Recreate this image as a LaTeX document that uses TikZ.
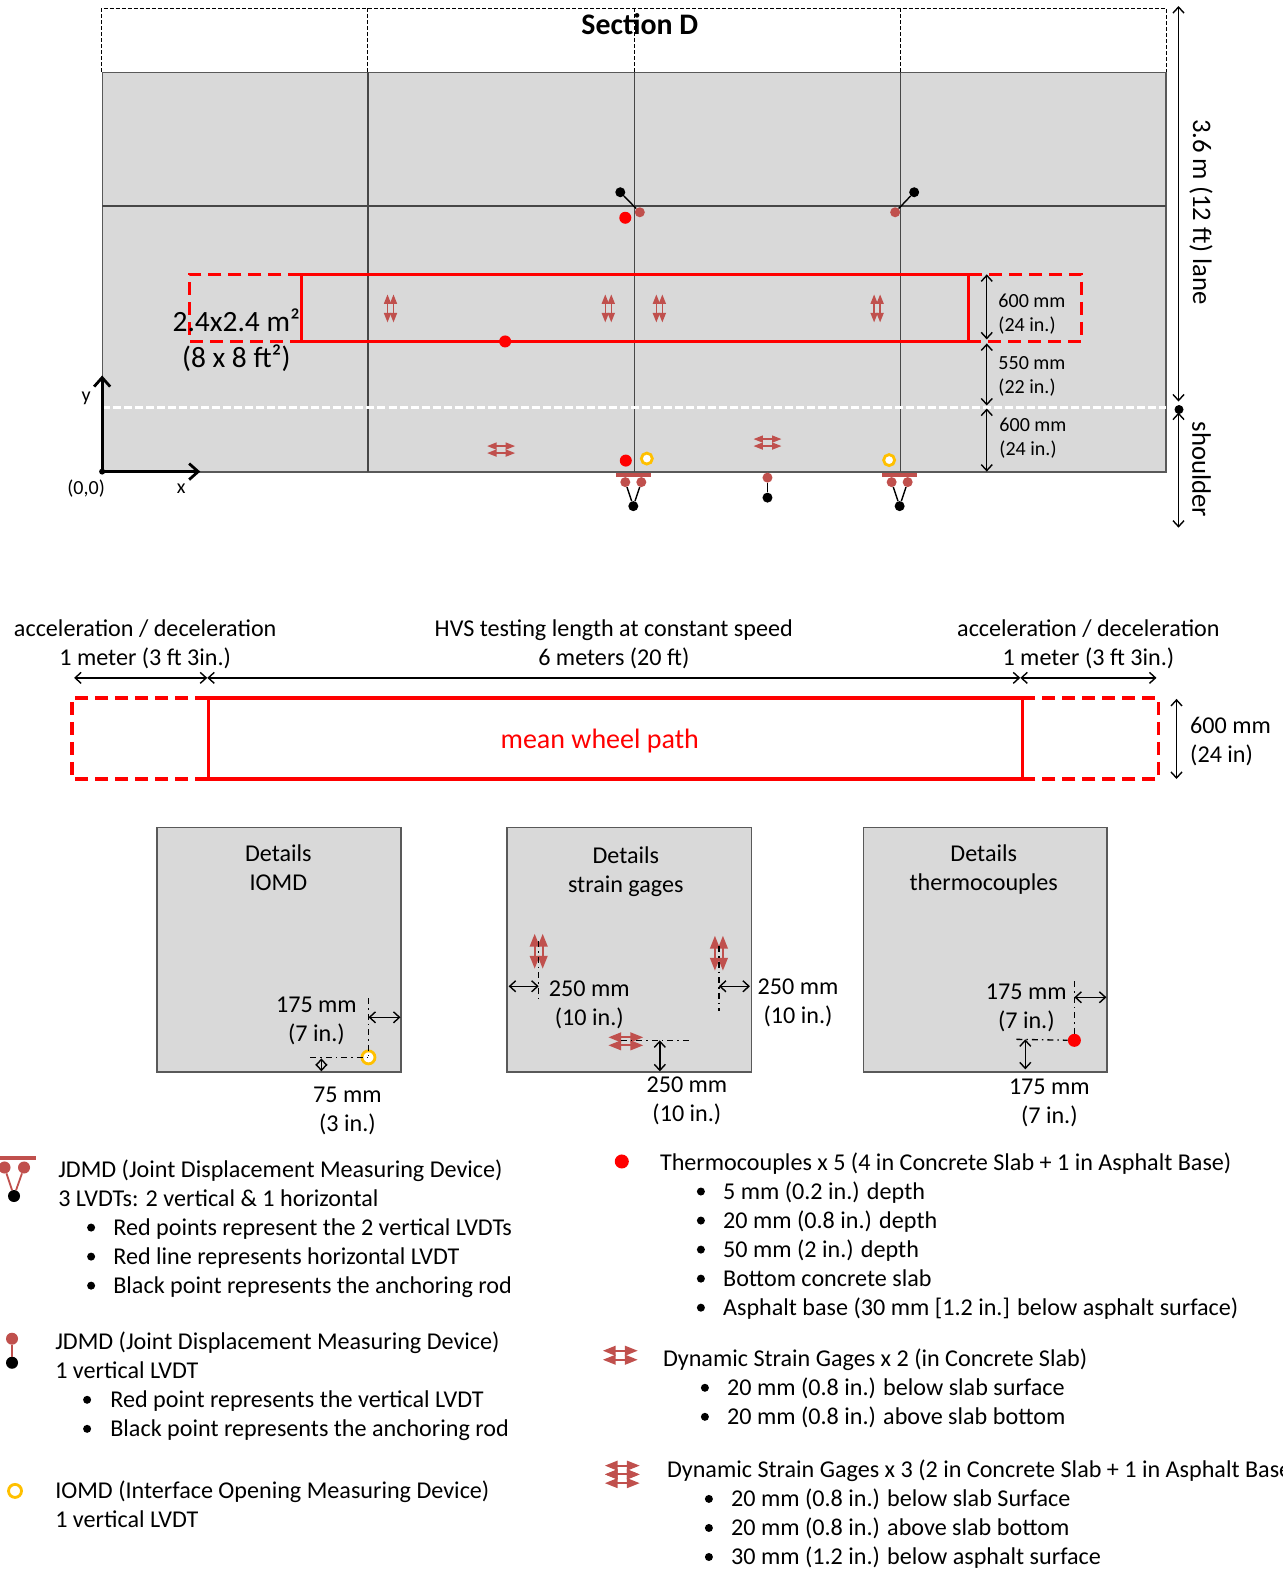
\documentclass[tikz,border=0pt]{standalone}
\usepackage{fontspec}
\setmainfont{Carlito}
\usetikzlibrary{arrows.meta}
\definecolor{slab}{HTML}{D9D9D9}
\definecolor{edgeg}{HTML}{595959}
\definecolor{brownred}{HTML}{C0504D}
\definecolor{ringy}{HTML}{FFC000}
\tikzset{
  slabbox/.style={fill=slab,draw=edgeg,line width=1.6pt},
  gridline/.style={draw=edgeg!80!black,line width=1.6pt},
  topdash/.style={draw=black,line width=1pt,dash pattern=on 4pt off 2pt},
  redsolid/.style={draw=red,line width=3.4pt},
  reddash/.style={draw=red,line width=3.4pt,dash pattern=on 13pt off 7pt},
  dimarrow/.style={draw=black,line width=1.4pt,{Straight Barb[length=6pt,width=11pt]}-{Straight Barb[length=6pt,width=11pt]}},
  dashdot/.style={draw=black,line width=1.3pt,dash pattern=on 6pt off 4pt on 1.5pt off 4pt},
  axisarrow/.style={draw=black,line width=2.8pt,-{Straight Barb[length=9pt,width=16pt]}},
  blackpt/.style={circle,fill=black,inner sep=0pt,minimum size=10pt},
  brownpt/.style={circle,fill=brownred,inner sep=0pt,minimum size=10pt},
  redpt/.style={circle,fill=red,inner sep=0pt,minimum size=12pt},
  ringpt/.style={circle,draw=ringy,fill=white,line width=2.8pt,inner sep=0pt,minimum size=11pt},
  tiebar/.style={draw=brownred,line width=4pt},
  tieline/.style={draw=black,line width=1.4pt},
  browntie/.style={draw=brownred,line width=1.8pt},
  txt/.style={inner sep=0pt,yshift=-2pt,font=\fontsize{24.1}{29}\selectfont,align=center,text=black},
  lft/.style={inner sep=0pt,yshift=-2pt,font=\fontsize{24.1}{29}\selectfont,anchor=west,text height=16pt,text depth=5pt,text=black},
  small/.style={inner sep=0pt,yshift=-2pt,font=\fontsize{20}{24}\selectfont,align=left,anchor=west,text=black},
  bul/.style={circle,fill=black,inner sep=0pt,minimum size=8pt},
  pics/gage/.style n args={4}{code={
    \draw[draw=brownred,line width=#4,{Triangle[length=#3*1.35,width=#3]}-{Triangle[length=#3*1.35,width=#3]}] (-#1/2,-#2/2) -- (#1/2,-#2/2);
    \draw[draw=brownred,line width=#4,{Triangle[length=#3*1.35,width=#3]}-{Triangle[length=#3*1.35,width=#3]}] (-#1/2,#2/2) -- (#1/2,#2/2);
  }},
}
\begin{document}
\begin{tikzpicture}[x=1pt,y=-1pt]
\useasboundingbox (0,0) rectangle (1281,1568);
% ---------- plan
\node[inner sep=0pt,outer sep=0pt,anchor=north west,minimum width=1062pt,minimum height=399pt,slabbox] (plan) at (102.5,72.5) {};
\draw[topdash] (101.5,72) -- (101.5,8) -- (1164.5,8) -- (1164.5,72);
\coordinate (t1) at (367.5,8); \coordinate (t2) at (633.5,8); \coordinate (t3) at (899.5,8);
\coordinate (m1) at (367.5,72); \coordinate (m2) at (633.5,72); \coordinate (m3) at (899.5,72);
\coordinate (b1) at (367.5,471); \coordinate (b2) at (633.5,471); \coordinate (b3) at (899.5,471);
\draw[topdash] (t1) -- (m1); \draw[topdash] (t2) -- (m2); \draw[topdash] (t3) -- (m3);
\draw[gridline] (m1) -- (b1); \draw[gridline] (m2) -- (b2); \draw[gridline] (m3) -- (b3);
\coordinate (hl) at (102,206); \coordinate (hr) at (1164,206);
\draw[gridline] (hl) -- (hr);
\coordinate (sl) at (102,407); \coordinate (sr) at (1164,407);
\draw[draw=white,line width=2.4pt,dash pattern=on 8pt off 3pt] (sl) -- (sr);
% wheel path plan
\draw[redsolid] (301,274) rectangle (967.5,341);
\draw[reddash] (301,274) -- (189,274) -- (189,341) -- (301,341);
\draw[reddash] (967.5,274) -- (1080,274) -- (1080,341) -- (967.5,341);
\node[txt,font=\fontsize{29.8}{36}\selectfont\bfseries] (sec) at (639,22) {Section D};
\node[txt,font=\fontsize{29.4}{36}\selectfont] (area) at (236,337.5) {2.4x2.4 m²\\(8 x 8 ft²)};
% axes
\coordinate (o) at (102,471); \coordinate (oy) at (102,375); \coordinate (ox) at (200,471);
\draw[axisarrow] (o) -- (oy); \draw[axisarrow] (o) -- (ox);
\node[circle,fill=black,inner sep=0pt,minimum size=6pt] (odot) at (o) {};
\node[small,anchor=center] (ylab) at (86,396) {y};
\node[small,anchor=center] (xlab) at (181,486) {x};
\node[small,anchor=center] (olab) at (86,486) {(0,0)};
% right dims
\coordinate (r0) at (1177,6); \coordinate (r1) at (1177,401); \coordinate (r1b) at (1177,412); \coordinate (r2) at (1177,527);
\draw[dimarrow] (r0) -- (r1); \draw[dimarrow] (r1b) -- (r2);
\node[circle,fill=black,inner sep=0pt,minimum size=9pt] (rdot) at (1177.5,409) {};
\node[txt,rotate=-90,font=\fontsize{26.7}{30}\selectfont] (lane) at (1199.5,209.5) {3.6 m (12 ft) lane};
\node[txt,rotate=-90,font=\fontsize{26.7}{30}\selectfont] (shld) at (1200,467) {shoulder};
\coordinate (d0) at (985.5,274); \coordinate (d1) at (985.5,339); \coordinate (d1b) at (985.5,343); \coordinate (d2) at (985.5,405); \coordinate (d2b) at (985.5,408); \coordinate (d3) at (985.5,471);
\draw[dimarrow] (d0) -- (d1); \draw[dimarrow] (d1b) -- (d2); \draw[dimarrow] (d2b) -- (d3);
\node[small] (da) at (997,311.5) {600 mm\\(24 in.)};
\node[small] (db) at (997,374) {550 mm\\(22 in.)};
\node[small] (dc) at (998,436) {600 mm\\(24 in.)};
% sensors
\node[blackpt] (k1) at (619.5,192) {}; \node[brownpt] (g1) at (639,212) {};
\draw[tieline] (k1) -- (g1);
\node[blackpt] (k2) at (913,192) {}; \node[brownpt] (g2) at (894,212) {};
\draw[tieline] (k2) -- (g2);
\node[redpt] (th1) at (624.5,217.5) {};
\node[redpt] (th2) at (504.5,341) {};
\pic[rotate=90] at (390,308) {gage={28}{6}{7}{1.5pt}};
\pic[rotate=90] at (607.5,308) {gage={28}{6}{7}{1.5pt}};
\pic[rotate=90] at (658.5,308) {gage={28}{6}{7}{1.5pt}};
\pic[rotate=90] at (876,308) {gage={28}{6}{7}{1.5pt}};
\pic at (500.5,449) {gage={28}{7}{7}{1.5pt}};
\pic at (766.5,442) {gage={28}{7}{7}{1.5pt}};
\node[redpt] (th3) at (625,460) {};
\node[ringpt] (r1a) at (646,458) {};
\node[ringpt] (r2a) at (888,459.5) {};
\coordinate (ba) at (615,474.5); \coordinate (bb) at (650,474.5);
\coordinate (bc) at (881,474.5); \coordinate (bd) at (916,474.5);
\draw[tiebar] (ba) -- (bb); \draw[tiebar] (bc) -- (bd);
\node[brownpt] (g3) at (624.5,481.5) {}; \node[brownpt] (g4) at (640.5,481.5) {};
\node[blackpt] (k3) at (632.5,505.5) {};
\draw[tieline] (g3) -- (k3); \draw[tieline] (g4) -- (k3);
\node[brownpt] (g5) at (890.5,481.5) {}; \node[brownpt] (g6) at (906.5,481.5) {};
\node[blackpt] (k4) at (898.5,505.5) {};
\draw[tieline] (g5) -- (k4); \draw[tieline] (g6) -- (k4);
\node[brownpt] (g7) at (766.5,477) {}; \node[blackpt] (k5) at (766.5,497) {};
\draw[tieline] (g7) -- (k5);
% ---------- strip
\node[txt] (acl) at (145,641) {acceleration / deceleration\\1 meter (3 ft 3in.)};
\node[txt] (hvs) at (613,641) {HVS testing length at constant speed\\6 meters (20 ft)};
\node[txt] (acr) at (1087,641) {acceleration / deceleration\\1 meter (3 ft 3in.)};
\coordinate (s0) at (74,677); \coordinate (s1) at (207,677); \coordinate (s2) at (1019,677); \coordinate (s3) at (1155,677);
\draw[dimarrow] (s0) -- (s1); \draw[dimarrow] (s1) -- (s2); \draw[dimarrow] (s2) -- (s3);
\draw[redsolid] (208,697) rectangle (1021,778);
\draw[reddash] (208,697) -- (72,697) -- (72,778) -- (208,778);
\draw[reddash] (1021,697) -- (1157,697) -- (1157,778) -- (1021,778);
\node[txt,text=red,font=\fontsize{28}{30}\selectfont] (mwp) at (599,738) {mean wheel path};
\coordinate (v0) at (1175,698); \coordinate (v1) at (1175,778);
\draw[dimarrow] (v0) -- (v1);
\node[lft,anchor=west,align=left,text height=,text depth=] (wd) at (1188.5,738.5) {600 mm\\(24 in)};
% ---------- details boxes
\node[inner sep=0pt,outer sep=0pt,anchor=north west,minimum width=244pt,minimum height=244pt,slabbox] (box1) at (156.5,826.5) {};
\node[inner sep=0pt,outer sep=0pt,anchor=north west,minimum width=244pt,minimum height=244pt,slabbox] (box2) at (506.5,826.5) {};
\node[inner sep=0pt,outer sep=0pt,anchor=north west,minimum width=243pt,minimum height=244pt,slabbox] (box3) at (862.5,826.5) {};
\node[txt] (t1a) at (278,864.5) {Details\\IOMD};
\node[txt] (t2a) at (625,868.5) {Details\\strain gages};
\node[txt] (t3a) at (982.5,866.5) {Details\\thermocouples};
% box 1
\node[txt] (b1a) at (316,1017.5) {175 mm\\(7 in.)};
\node[ringpt,minimum size=13pt] (ring) at (368,1056) {};
\coordinate (c1t) at (368,997); \coordinate (c1l) at (310,1056);
\draw[dashdot] (c1t) -- (ring.center); \draw[dashdot] (c1l) -- (ring.center);
\coordinate (c1a) at (368,1016); \coordinate (c1b) at (400,1016);
\draw[dimarrow] (c1a) -- (c1b);
\coordinate (c1c) at (321,1057); \coordinate (c1d) at (321,1070);
\draw[dimarrow] (c1c) -- (c1d);
\node[txt] (b1b) at (347,1107.5) {75 mm\\(3 in.)};
% box 2
\coordinate (c2a) at (538,940); \coordinate (c2b) at (538,1001);
\coordinate (c2c) at (718,945); \coordinate (c2d) at (718,1010);
\coordinate (c2e) at (620,1039); \coordinate (c2f) at (690,1039);
\pic[rotate=90] at (538,950) {gage={35}{8}{9.5}{2.2pt}};
\pic[rotate=90] at (718,952) {gage={35}{8}{9.5}{2.2pt}};
\pic at (625,1040) {gage={35}{8}{9.5}{2.2pt}};
\draw[dashdot] (c2a) -- (c2b); \draw[dashdot] (c2c) -- (c2d); \draw[dashdot] (c2e) -- (c2f);
\coordinate (c2g) at (508,985); \coordinate (c2h) at (538,985);
\coordinate (c2i) at (718,985); \coordinate (c2j) at (749,985);
\coordinate (c2k) at (659,1039); \coordinate (c2l) at (659,1070);
\draw[dimarrow] (c2g) -- (c2h); \draw[dimarrow] (c2i) -- (c2j); \draw[dimarrow] (c2k) -- (c2l);
\node[txt] (b2a) at (588.5,1001.5) {250 mm\\(10 in.)};
\node[txt] (b2b) at (797,999.5) {250 mm\\(10 in.)};
\node[txt] (b2c) at (686,1097.5) {250 mm\\(10 in.)};
% box 3
\node[txt] (b3a) at (1025,1004.5) {175 mm\\(7 in.)};
\node[redpt,minimum size=13pt] (th4) at (1073,1039) {};
\coordinate (c3t) at (1073,980); \coordinate (c3l) at (1015,1038);
\draw[dashdot] (c3t) -- (th4); \draw[dashdot] (c3l) -- (th4);
\coordinate (c3a) at (1073,996); \coordinate (c3b) at (1105,996);
\coordinate (c3c) at (1024,1038); \coordinate (c3d) at (1024,1068);
\draw[dimarrow] (c3a) -- (c3b); \draw[dimarrow] (c3c) -- (c3d);
\node[txt] (b3b) at (1048,1099.5) {175 mm\\(7 in.)};
% ---------- legend left
\coordinate (la) at (0,1157); \coordinate (lb) at (36,1157);
\draw[tiebar] (la) -- (lb);
\node[brownpt,minimum size=12pt] (lg1) at (4.5,1166) {};
\node[brownpt,minimum size=12pt] (lg2) at (24,1166) {};
\node[blackpt,minimum size=12pt] (lk1) at (14,1194.5) {};
\draw[browntie] (lg1) -- (lk1); \draw[browntie] (lg2) -- (lk1);
\node[lft] (L1) at (58,1168) {JDMD (Joint Displacement Measuring Device)};
\node[lft] (L2) at (58,1197) {3 LVDTs: 2 vertical \& 1 horizontal};
\node[bul] (B1) at (91,1226) {}; \node[lft] (L3) at (113,1226) {Red points represent the 2 vertical LVDTs};
\node[bul] (B2) at (91,1255) {}; \node[lft] (L4) at (113,1255) {Red line represents horizontal LVDT};
\node[bul] (B3) at (91,1284) {}; \node[lft] (L5) at (113,1284) {Black point represents the anchoring rod};
\node[brownpt,minimum size=12pt] (lg3) at (12,1337) {};
\node[blackpt,minimum size=12pt] (lk2) at (12,1361) {};
\draw[browntie] (lg3) -- (lk2);
\node[lft] (L6) at (55,1340) {JDMD (Joint Displacement Measuring Device)};
\node[lft] (L7) at (55,1369) {1 vertical LVDT};
\node[bul] (B4) at (87,1398) {}; \node[lft] (L8) at (110,1398) {Red point represents the vertical LVDT};
\node[bul] (B5) at (87,1427) {}; \node[lft] (L9) at (110,1427) {Black point represents the anchoring rod};
\node[ringpt,minimum size=13pt] (lr) at (15,1489) {};
\node[lft] (L10) at (55,1489.5) {IOMD (Interface Opening Measuring Device)};
\node[lft] (L11) at (55,1518.5) {1 vertical LVDT};
% ---------- legend right
\node[redpt,minimum size=14pt] (lth) at (621,1160) {};
\node[lft] (R1) at (659,1161) {Thermocouples x 5 (4 in Concrete Slab + 1 in Asphalt Base)};
\node[bul] (C1) at (700,1190) {}; \node[lft] (R2) at (722,1190) {5 mm (0.2 in.) depth};
\node[bul] (C2) at (700,1219) {}; \node[lft] (R3) at (722,1219) {20 mm (0.8 in.) depth};
\node[bul] (C3) at (700,1248) {}; \node[lft] (R4) at (722,1248) {50 mm (2 in.) depth};
\node[bul] (C4) at (700,1277) {}; \node[lft] (R5) at (722,1277) {Bottom concrete slab};
\node[bul] (C5) at (700,1306) {}; \node[lft] (R6) at (722,1306) {Asphalt base (30 mm [1.2 in.] below asphalt surface)};
\pic at (619.5,1353.5) {gage={35}{9}{9.5}{2.2pt}};
\node[lft] (R7) at (662,1357) {Dynamic Strain Gages x 2 (in Concrete Slab)};
\node[bul] (C6) at (704,1386) {}; \node[lft] (R8) at (726,1386) {20 mm (0.8 in.) below slab surface};
\node[bul] (C7) at (704,1415) {}; \node[lft] (R9) at (726,1415) {20 mm (0.8 in.) above slab bottom};
\pic at (621.5,1472.5) {gage={35}{0}{9.5}{2.2pt}};
\pic at (621.5,1472.5) {gage={35}{17.5}{9.5}{2.2pt}};
\node[lft] (R10) at (666,1468) {Dynamic Strain Gages x 3 (2 in Concrete Slab + 1 in Asphalt Base};
\node[bul] (C8) at (708,1497) {}; \node[lft] (R11) at (730,1497) {20 mm (0.8 in.) below slab Surface};
\node[bul] (C9) at (708,1526) {}; \node[lft] (R12) at (730,1526) {20 mm (0.8 in.) above slab bottom};
\node[bul] (C10) at (708,1555) {}; \node[lft] (R13) at (730,1555) {30 mm (1.2 in.) below asphalt surface};
\end{tikzpicture}
\end{document}
